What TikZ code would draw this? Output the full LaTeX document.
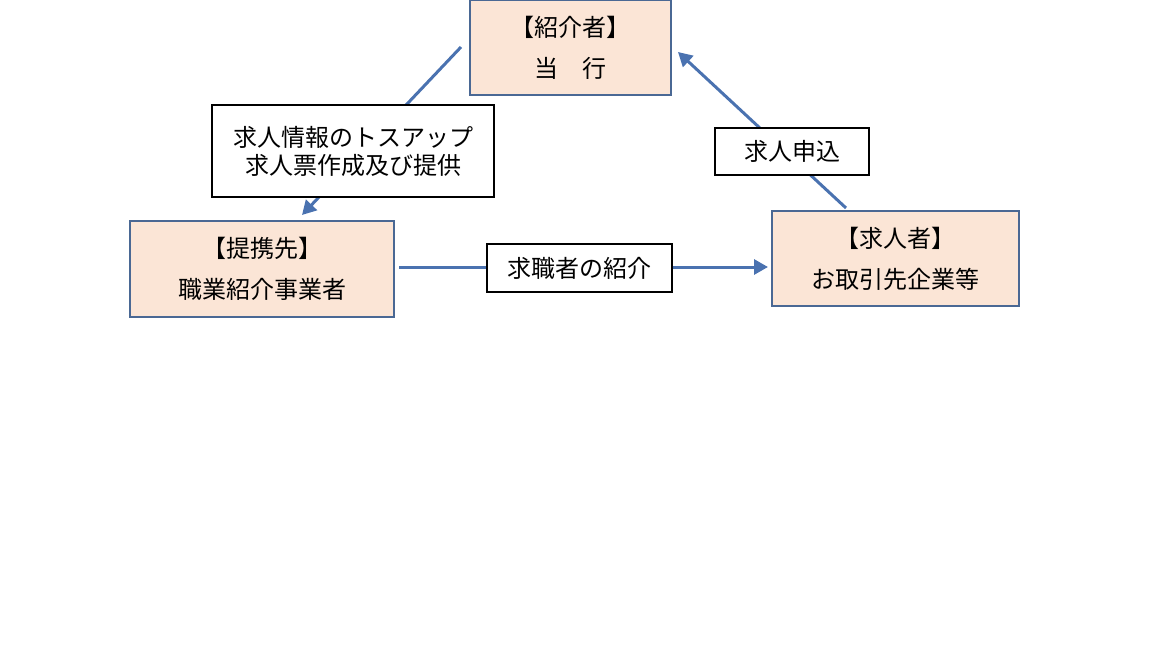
\documentclass[tikz,border=0pt]{standalone}
\usepackage{fontspec}
\newfontfamily\cjk{Noto Sans CJK JP}
\usetikzlibrary{arrows.meta}
\definecolor{peach}{HTML}{FBE5D6}
\definecolor{edge}{HTML}{4A6894}
\definecolor{arrowblue}{HTML}{4A72B0}
\begin{document}
\begin{tikzpicture}[x=1pt,y=-1pt,
  box/.style={draw=edge,line width=1.6pt,fill=peach,inner sep=0pt,align=center,font=\cjk\fontsize{24}{41}\selectfont},
  lab/.style={draw=black,line width=1.6pt,fill=white,inner sep=0pt,align=center,font=\cjk\fontsize{24}{28}\selectfont},
  arr/.style={draw=arrowblue,line width=3pt,-{Triangle[length=14pt,width=15pt]}}]
\useasboundingbox (0,0) rectangle (1152,648);
\node[box,minimum width=201pt,minimum height=95pt] (a) at (570.5,47.5) {【紹介者】\\当　行};
\node[box,minimum width=264pt,minimum height=96pt] (c) at (262,269) {【提携先】\\職業紹介事業者};
\node[box,minimum width=247pt,minimum height=95pt] (b) at (895.5,258.5) {【求人者】\\お取引先企業等};
\coordinate (a1) at (461,47);
\coordinate (c1) at (302,215);
\coordinate (b1) at (846,208);
\coordinate (a2) at (678,52);
\coordinate (c2) at (399,267);
\coordinate (b2) at (768,267);
\draw[arr] (a1) -- (c1);
\draw[arr] (b1) -- (a2);
\draw[arr] (c2) -- (b2);
\node[lab,minimum width=282pt,minimum height=92pt] (l1) at (353,151) {求人情報のトスアップ\\求人票作成及び提供};
\node[lab,minimum width=154pt,minimum height=47pt] (l2) at (792,151.5) {求人申込};
\node[lab,minimum width=185pt,minimum height=48pt] (l3) at (579.5,268) {求職者の紹介};
\end{tikzpicture}
\end{document}
